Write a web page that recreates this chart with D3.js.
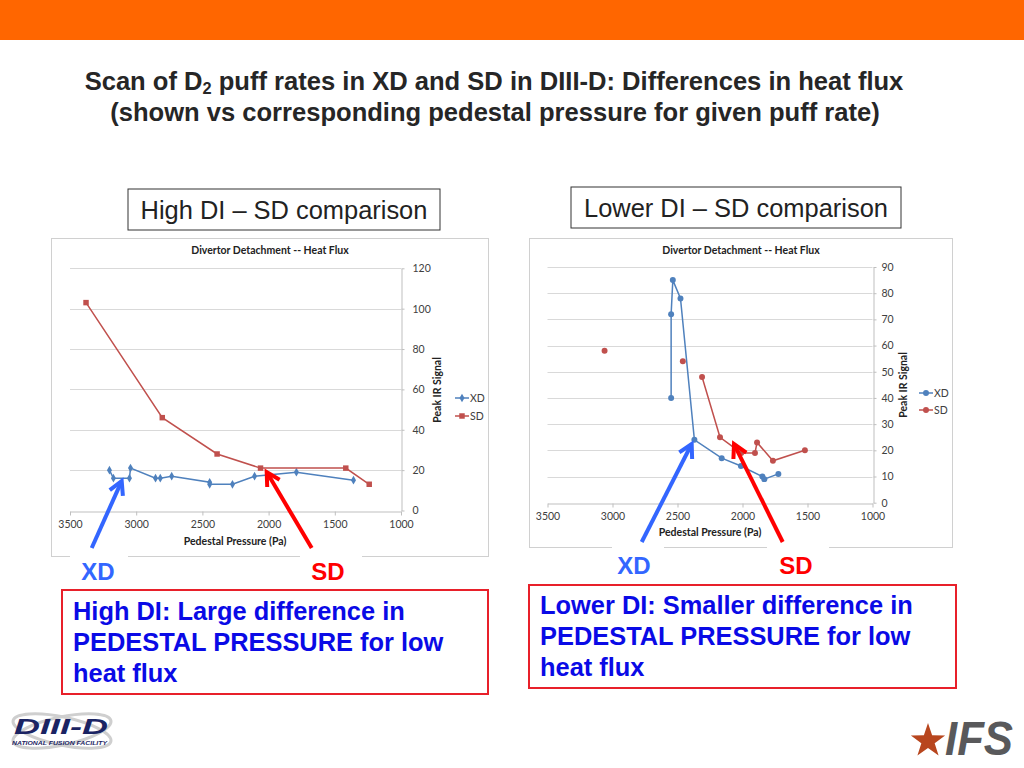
<!DOCTYPE html>
<html><head><meta charset="utf-8">
<script src="https://d3js.org/d3.v7.min.js"></script>
<style>body{margin:0;background:#fff} svg{display:block}</style>
</head><body>
<svg id="c" width="1024" height="768"></svg>
<script>
// ---------- data ----------
const pressureTicks = [3500, 3000, 2500, 2000, 1500, 1000];
const leftFluxTicks = [0, 20, 40, 60, 80, 100, 120];
const rightFluxTicks = [0, 10, 20, 30, 40, 50, 60, 70, 80, 90];
const seriesNames = ["XD", "SD"];

const leftXDPressure = [3202, 3172, 3051, 3043, 2854, 2818, 2732, 2445, 2445, 2273, 2106, 1790, 1359];
const leftXDFlux     = [20, 16, 16, 21, 16, 16, 17, 14, 13, 13, 17, 19, 15];
const leftSDPressure = [3379, 2803, 2389, 2061, 1417, 1240];
const leftSDFlux     = [103, 46, 28, 21, 21, 13];

const rightXDPressure = [2549, 2549, 2536, 2477, 2370, 2160, 2012, 1847, 1832, 1724];
const rightXDFlux     = [40, 72, 85, 78, 24, 17, 14, 10, 9, 11];
// null = gap in the line (isolated points)
const rightSDPressure = [3061, null, 2459, null, 2311, 2173, 2010, 1904, 1888, 1766, 1520];
const rightSDFlux     = [58, null, 54, null, 48, 25, 19, 19, 23, 16, 20];

const chartTitle = "Divertor Detachment -- Heat Flux";
const xTitle = "Pedestal Pressure (Pa)";
const yTitle = "Peak IR Signal";

// ---------- styles ----------
const XD_COLOR = "#4f81bd", SD_COLOR = "#c0504d";
const CF = "Lato, 'Open Sans', sans-serif";
const AF = "'Liberation Sans', Arial, sans-serif";
const svg = d3.select("#c");

// scale font size of a text so that it spans the target width; returns size
function fitSize(sel, target){
  const fs = +sel.attr("font-size");
  const w = sel.node().getComputedTextLength();
  const ns = fs * target / w;
  sel.attr("font-size", ns);
  return ns;
}

// top bar
svg.append("rect").attr("x",0).attr("y",0).attr("width",1024).attr("height",40).attr("fill","#ff6600");

// title
const t1 = svg.append("text").attr("x",494).attr("y",90).attr("text-anchor","middle")
  .attr("font-family",AF).attr("font-weight","bold").attr("font-size",22).attr("fill","#262626");
t1.append("tspan").text("Scan of D");
t1.append("tspan").attr("font-size","0.64em").attr("dy",4).text("2");
t1.append("tspan").attr("dy",-4).text(" puff rates in XD and SD in DIII-D: Differences in heat flux");
fitSize(t1, 819);
const t2 = svg.append("text").attr("x",495).attr("y",121).attr("text-anchor","middle")
  .attr("font-family",AF).attr("font-weight","bold").attr("font-size",22).attr("fill","#262626")
  .text("(shown vs corresponding pedestal pressure for given puff rate)");
fitSize(t2, 770);

// header boxes
function headerBox(x,y,w,h,txt,tw){
  svg.append("rect").attr("x",x).attr("y",y).attr("width",w).attr("height",h)
    .attr("fill","#fff").attr("stroke","#333").attr("stroke-width",1);
  const t = svg.append("text").attr("x",x+w/2).attr("y",y+h/2+9).attr("text-anchor","middle")
    .attr("font-family",AF).attr("font-size",22).attr("fill","#222").text(txt);
  fitSize(t, tw);
}
headerBox(128,189,312,41,"High DI \u2013 SD comparison",287);
headerBox(571,187,330,41,"Lower DI \u2013 SD comparison",304);

// ---------- charts ----------
function drawChart(c){
  const g = svg.append("g");
  g.append("rect").attr("x",c.box[0]+0.5).attr("y",c.box[1]+0.5).attr("width",c.box[2]).attr("height",c.box[3])
    .attr("fill","#fff").attr("stroke","#d0d0d0").attr("stroke-width",1);
  const x = d3.scaleLinear().domain([3500,1000]).range([c.px0,c.px1]);
  const y = d3.scaleLinear().domain([0,c.yMax]).range([c.py0,c.py1]);
  // gridlines
  g.append("g").selectAll("line").data(c.yTicks.filter(v=>v>0)).join("line")
    .attr("x1",c.px0).attr("x2",c.px1).attr("y1",d=>Math.round(y(d))+0.5).attr("y2",d=>Math.round(y(d))+0.5)
    .attr("stroke","#d9d9d9").attr("stroke-width",1);
  // x axis
  const xa = g.append("g").attr("transform",`translate(0,${Math.round(c.py0)+0.5})`)
    .call(d3.axisBottom(x).tickValues(pressureTicks).tickFormat(d3.format("d")).tickSize(4).tickPadding(5).tickSizeOuter(0));
  xa.select(".domain").attr("stroke","#bfbfbf");
  xa.selectAll(".tick line").attr("stroke","#bfbfbf");
  xa.selectAll("text").attr("font-family",CF).attr("font-size",10.5).attr("fill","#404040");
  // y axis on right
  const ya = g.append("g").attr("transform",`translate(${Math.round(c.px1)+0.5},0)`)
    .call(d3.axisRight(y).tickValues(c.yTicks).tickFormat(d3.format("d")).tickSize(3).tickPadding(c.yPad).tickSizeOuter(0));
  ya.select(".domain").attr("stroke","#bfbfbf");
  ya.selectAll(".tick line").attr("stroke","#bfbfbf");
  ya.selectAll("text").attr("font-family",CF).attr("font-size",10.5).attr("fill","#404040");
  // titles
  g.append("text").attr("x",c.titleX).attr("y",c.box[1]+16).attr("text-anchor","middle")
    .attr("font-family",CF).attr("font-weight","bold").attr("font-size",10.5).attr("fill","#222").text(chartTitle);
  g.append("text").attr("x",c.xTitleX).attr("y",c.xTitleY).attr("text-anchor","middle")
    .attr("font-family",CF).attr("font-weight","bold").attr("font-size",10.5).attr("fill","#222").text(xTitle);
  g.append("text").attr("transform",`translate(${c.yTitleX},${c.yTitleY}) rotate(-90)`).attr("text-anchor","middle")
    .attr("font-family",CF).attr("font-weight","bold").attr("font-size",10.5).attr("fill","#222").text(yTitle);
  // series
  c.series.forEach((s,i)=>{
    const pts = s.p.map((p,k)=>({p:p,v:s.v[k]}));
    const line = d3.line().defined(d=>d.p!=null).x(d=>x(d.p)).y(d=>y(d.v));
    g.append("path").attr("d",line(pts)).attr("fill","none").attr("stroke",s.color).attr("stroke-width",1.5);
    const valid = pts.filter(d=>d.p!=null);
    g.append("g").selectAll("path").data(valid).join("path")
      .attr("transform",d=>`translate(${x(d.p)},${y(d.v)})`)
      .attr("d",d3.symbol(s.sym, s.size)).attr("fill",s.color);
    // legend
    const ly = c.legY[i];
    g.append("line").attr("x1",c.legX).attr("x2",c.legX+14).attr("y1",ly).attr("y2",ly)
      .attr("stroke",s.color).attr("stroke-width",1.5);
    g.append("path").attr("transform",`translate(${c.legX+7},${ly})`).attr("d",d3.symbol(s.sym,s.size)).attr("fill",s.color);
    g.append("text").attr("x",c.legX+15).attr("y",ly+3.5).attr("font-family",CF).attr("font-size",10.5)
      .attr("fill","#404040").text(seriesNames[i]);
  });
}

drawChart({
  box:[51,238,437,318], px0:70, px1:401, py0:510.5, py1:268.3, yMax:120, yTicks:leftFluxTicks, yPad:8,
  titleX:270, xTitleX:235, xTitleY:545, yTitleX:441, yTitleY:390, legX:455, legY:[398,416],
  series:[
    {p:leftXDPressure, v:leftXDFlux, color:XD_COLOR, sym:d3.symbolDiamond, size:22},
    {p:leftSDPressure, v:leftSDFlux, color:SD_COLOR, sym:d3.symbolSquare, size:30}
  ]
});
drawChart({
  box:[529,238,423,309], px0:547.5, px1:872.5, py0:502.7, py1:267, yMax:90, yTicks:rightFluxTicks, yPad:5,
  titleX:741, xTitleX:710, xTitleY:536, yTitleX:907, yTitleY:385, legX:919, legY:[393,410],
  series:[
    {p:rightXDPressure, v:rightXDFlux, color:XD_COLOR, sym:d3.symbolCircle, size:28},
    {p:rightSDPressure, v:rightSDFlux, color:SD_COLOR, sym:d3.symbolCircle, size:28}
  ]
});

// ---------- labels & arrows ----------
function whiteRect(x,y,w,h){ svg.append("rect").attr("x",x).attr("y",y).attr("width",w).attr("height",h).attr("fill","#fff"); }
whiteRect(70,549,58,40); whiteRect(300,549,62,40);
whiteRect(612,540,52,40); whiteRect(767,540,62,40);

function label(x,y,txt,color){
  svg.append("text").attr("x",x).attr("y",y).attr("text-anchor","middle").attr("font-family",AF)
    .attr("font-weight","bold").attr("font-size",24).attr("fill",color).text(txt);
}
label(98,580,"XD","#3366ff"); label(328,580,"SD","#ff0000");
label(634,574,"XD","#3366ff"); label(796,574,"SD","#ff0000");

function arrow(x1,y1,x2,y2,color){
  const a = Math.atan2(y2-y1,x2-x1), L = 15, sp = 0.5;
  svg.append("line").attr("x1",x1).attr("y1",y1).attr("x2",x2-Math.cos(a)*2).attr("y2",y2-Math.sin(a)*2)
    .attr("stroke",color).attr("stroke-width",4);
  const p = [[x2-L*Math.cos(a-sp), y2-L*Math.sin(a-sp)],[x2,y2],[x2-L*Math.cos(a+sp), y2-L*Math.sin(a+sp)]];
  svg.append("polyline").attr("points",p.map(d=>d.join(",")).join(" ")).attr("fill","none")
    .attr("stroke",color).attr("stroke-width",4).attr("stroke-linejoin","miter");
}
arrow(91.7,548,121.7,481,"#3366ff");
arrow(311.7,548,266.7,472,"#ff0000");
arrow(641.7,542,691.7,444,"#3366ff");
arrow(782.7,542,734,444,"#ff0000");

// ---------- text boxes ----------
function noteBox(x,y,w,h,lines,ly,tw){
  svg.append("rect").attr("x",x).attr("y",y).attr("width",w).attr("height",h).attr("fill","#fff")
    .attr("stroke","#e8202a").attr("stroke-width",2);
  const ts = lines.map((t,i)=>svg.append("text").attr("x",x+11).attr("y",ly+i*31).attr("font-family",AF)
    .attr("font-weight","bold").attr("font-size",22).attr("fill","#0a0ae6").text(t));
  const fs = fitSize(ts[0], tw);
  ts.forEach(t=>t.attr("font-size",fs));
}
noteBox(62,590,426,104,["High DI: Large difference in","PEDESTAL PRESSURE for low","heat flux"],620,332);
noteBox(529,585,427,103,["Lower DI: Smaller difference in","PEDESTAL PRESSURE for low","heat flux"],614,373);

// ---------- logos ----------
const lg = svg.append("g");
lg.append("ellipse").attr("cx",62).attr("cy",731).attr("rx",50).attr("ry",14).attr("transform","rotate(-12,62,731)")
  .attr("fill","none").attr("stroke","#cfcfcf").attr("stroke-width",3);
lg.append("ellipse").attr("cx",62).attr("cy",731).attr("rx",50).attr("ry",14).attr("transform","rotate(12,62,731)")
  .attr("fill","none").attr("stroke","#cfcfcf").attr("stroke-width",3);
lg.append("text").attr("x",14).attr("y",734).attr("font-family",AF).attr("font-weight","bold").attr("font-style","italic")
  .attr("font-size",22).attr("textLength",94).attr("lengthAdjust","spacingAndGlyphs").attr("fill","#1b2463").text("DIII-D");
lg.append("text").attr("x",12).attr("y",745).attr("font-family",AF).attr("font-weight","bold").attr("font-style","italic")
  .attr("font-size",5.5).attr("textLength",95).attr("lengthAdjust","spacingAndGlyphs").attr("fill","#1b2463").text("NATIONAL FUSION FACILITY");

const star = d3.range(10).map(i=>{const r=i%2?7:18, a=-Math.PI/2+i*Math.PI/5; return [928+r*Math.cos(a),741+r*Math.sin(a)];});
svg.append("polygon").attr("points",star.map(d=>d.join(",")).join(" ")).attr("fill","#b8461e");
svg.append("text").attr("x",945).attr("y",755).attr("font-family",AF).attr("font-weight","bold").attr("font-style","italic")
  .attr("font-size",48).attr("textLength",68).attr("lengthAdjust","spacingAndGlyphs").attr("fill","#59595b").text("IFS");
</script>
</body></html>
